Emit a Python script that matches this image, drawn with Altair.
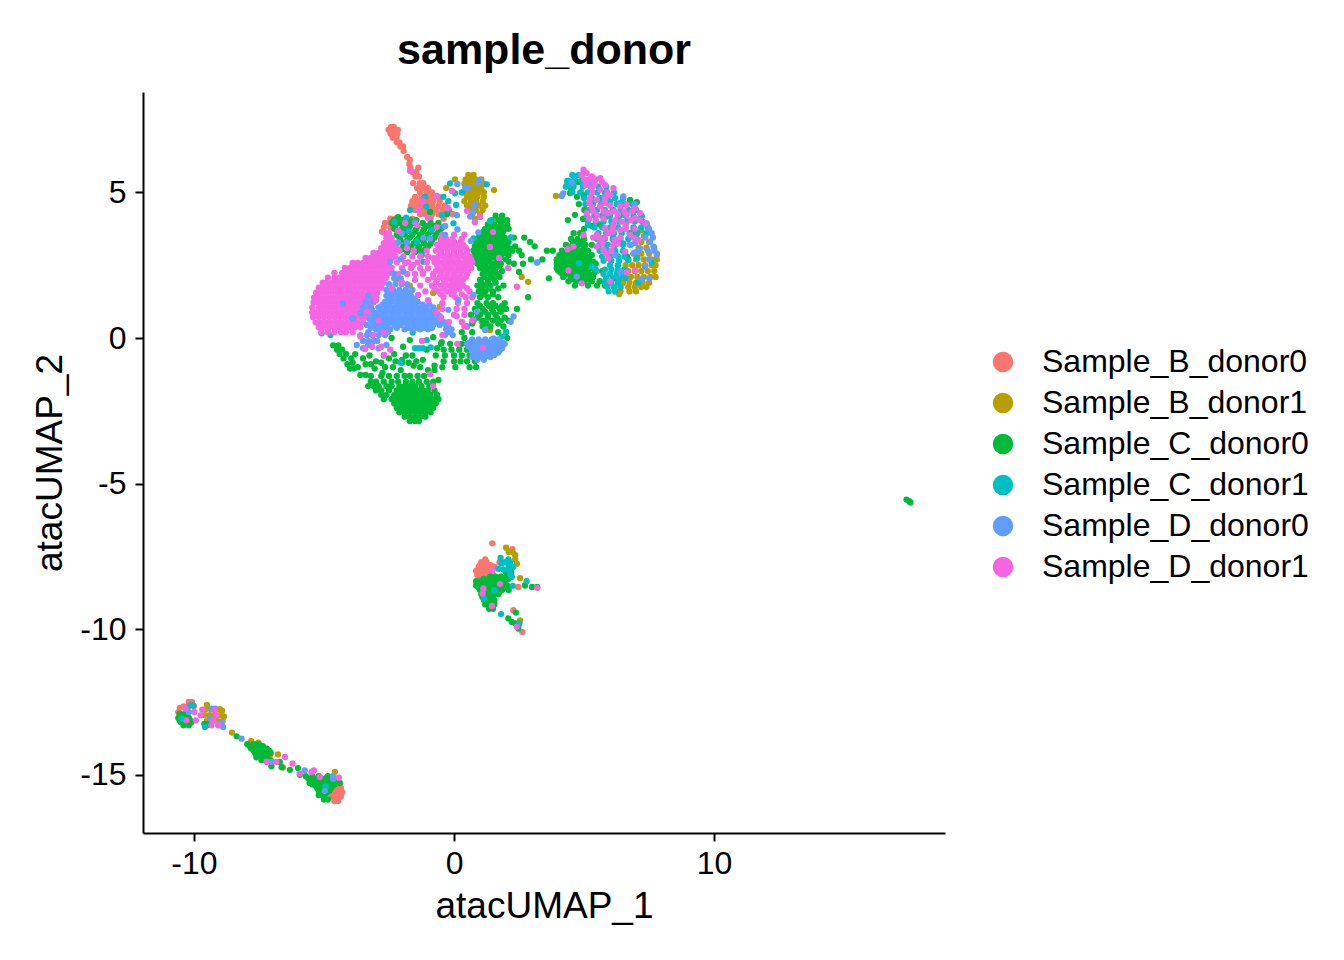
import altair as alt
import pandas as pd

NAMES = ["Sample_B_donor0", "Sample_B_donor1", "Sample_C_donor0", "Sample_C_donor1", "Sample_D_donor0", "Sample_D_donor1"]
COLORS = ["#F8766D", "#B79F00", "#00BA38", "#00BFC4", "#619CFF", "#F564E3"]

# every group: rows of (atacUMAP_2, [atacUMAP_1 ...])
B0 = [
(7.25,[-2.42,-2.32]),(7.15,[-2.52,-2.38,-2.24,-2.16]),(7.02,[-2.44,-2.3,-2.18]),(6.88,[-2.36,-2.22]),
(6.72,[-2.2,-2.1]),(6.58,[-2.06,-1.96]),(6.42,[-1.94]),(6.22,[-1.8]),(6.12,[-1.7]),(5.98,[-1.72]),
(5.85,[-1.68,-1.37]),(5.7,[-1.6,-1.45]),(5.55,[-1.48,-1.35]),(5.32,[-1.57,-1.32,-1.18]),
(5.15,[-1.42,-1.2,-1.0]),(5.0,[-1.3,-1.05,-0.85]),(4.85,[-1.5,-1.25,-1.05,-0.85,-0.6]),
(4.7,[-1.6,-1.4,-1.2,-1,-0.8,-0.55]),(4.55,[-1.65,-1.45,-1.25,-1.05,-0.85,-0.6,-0.35]),
(4.4,[-1.5,-1.3,-1.1,-0.9,-0.7,-0.45,-0.2]),(4.25,[-1.3,-1.1,-0.85,-0.6,-0.3,-0.05]),
(4.1,[-2.45,-2.25,-1.6,-0.9,-0.4]),(3.95,[-2.65,-2.45,-2.2,-1.9]),(3.8,[-2.7,-2.45]),(3.65,[-2.77]),
(5.3,[4.35]),(5.0,[4.9]),(4.4,[5.0]),(2.3,[5.5]),(1.9,[5.9]),
(-7.05,[1.47]),(-7.25,[2.24]),(-7.6,[1.2]),(-7.7,[1.05,1.25,1.75]),(-7.8,[1.0,1.2,1.4]),(-7.85,[0.95,1.15,1.35,1.55]),
(-7.93,[0.95,1.15,1.35]),(-8.0,[0.85,1.05,1.25,1.45]),(-8.08,[0.9,1.2,1.4]),(-8.15,[0.9,1.1,1.3,1.5]),(-8.3,[1.0,1.2]),(-8.55,[2.47]),
(-9.35,[2.28]),(-9.85,[2.5]),(-10.1,[2.63]),
(-15.45,[-4.55,-4.35]),(-15.6,[-4.65,-4.45,-4.3]),(-15.75,[-4.7,-4.5,-4.35]),(-15.9,[-4.6,-4.45]),
(-12.7,[-10.54]),(-12.5,[-10.08,-10.2]),(-12.65,[-10.4,-10.25,-10.0]),(-12.85,[-10.6]),
]
B1 = [
(5.6,[0.55,0.75]),(5.45,[0.04,0.45,0.65,0.85,1.05]),(5.3,[0.4,0.6,0.8,1.0,1.15]),
(5.15,[-0.3,0.45,0.65,0.85,1.05]),(5.08,[1.54]),(5.0,[0.35,0.55,0.75,0.95,1.15]),
(4.85,[0.5,0.7,0.9,1.15]),(4.7,[0.4,0.65,0.85,1.1]),(4.55,[0.5,0.7,0.95,1.2]),
(4.4,[0.6,0.85,1.1]),(4.25,[0.7,1.0]),(4.1,[0.8]),
(2.0,[-2.2]),(1.7,[0.2]),(1.07,[-0.55]),(0.55,[1.07]),(0.27,[1.38]),(2.1,[2.6]),(1.93,[2.85]),
(3.3,[-1.43]),(2.5,[-2.58]),(1.8,[-1.7]),(1.55,[-0.8]),(3.0,[-1.2]),
(3.7,[6.9,7.2]),(3.5,[7.0,7.3]),(3.3,[7.2,7.5]),(3.1,[7.1,7.4,7.7]),(2.9,[6.9,7.2,7.5,7.8]),
(2.7,[6.7,7.0,7.3,7.6,7.8]),(2.5,[6.6,6.85,7.1,7.35,7.6,7.75]),(2.3,[6.7,6.95,7.2,7.45,7.7]),
(2.1,[6.55,6.8,7.05,7.3,7.55,7.75]),(1.9,[6.5,6.75,7.0,7.25,7.5]),(1.75,[6.4,6.7,6.95,7.2,7.4]),
(1.6,[6.2,6.4,6.75,7.0]),(1.5,[6.35]),(4.88,[3.92]),
(-7.2,[2.0]),(-7.35,[2.1,2.25]),(-7.45,[2.35]),(-7.6,[2.35]),(-7.75,[2.42]),(-8.25,[2.54]),(-9.7,[2.54]),
(-12.6,[-9.5]),(-12.8,[-8.92]),(-13.0,[-8.85]),(-13.55,[-8.54]),(-13.9,[-7.53]),(-13.85,[-7.8]),
(-14.3,[-7.07,-6.77]),(-14.75,[-6.58]),(-14.9,[-4.58]),(-15.1,[-4.77]),
(-12.75,[-9.55,-9.35,-9.15,-9.0]),(-12.95,[-9.6,-9.4,-9.2,-9.0]),(-13.15,[-9.5,-9.1,-8.9]),
]
C0 = [
(-2.85,[-1.7,-1.5,-1.35]),(-2.7,[-1.9,-1.7,-1.5,-1.3,-1.1]),(-2.55,[-2.1,-1.9,-1.7,-1.5,-1.3,-1.1,-0.9]),
(-2.4,[-2.2,-2,-1.8,-1.6,-1.4,-1.2,-1,-0.8]),(-2.25,[-2.3,-2.1,-1.9,-1.7,-1.5,-1.3,-1.1,-0.9,-0.7]),
(-2.1,[-2.7,-2.4,-2.2,-2,-1.8,-1.6,-1.4,-1.2,-1,-0.8,-0.6]),
(-1.95,[-2.8,-2.6,-2.3,-2.1,-1.9,-1.7,-1.5,-1.3,-1.1,-0.9,-0.65]),
(-1.8,[-3.0,-2.8,-2.5,-2.2,-2,-1.8,-1.6,-1.4,-1.2,-1,-0.75]),
(-1.65,[-3.3,-3.1,-2.9,-2.6,-2.4,-2.1,-1.9,-1.7,-1.5,-1.25,-0.95]),
(-1.5,[-3.2,-3,-2.7,-2.4,-2.15,-1.85,-1.6,-1.35,-1.05,-0.8]),(-1.3,[-2.8,-2.5,-2.2,-1.9,-1.7,-1.4,-1.15]),
(-1.44,[-0.6]),(-0.25,[-4.65,-4.45]),(-0.4,[-4.5,-4.3]),(-0.55,[-4.4,-2.3,-4.15,-3.8]),(-0.7,[-4.25,-3.5,-2.5,-3.95]),
(-0.9,[-4.1,-3.4,-3.2]),(-0.85,[-3.9,-2.8,-2.0]),(-1.05,[-4.0,-3.05,-3.85]),(-1.0,[-3.7,-2.65,-1.3,-2.35]),(-1.27,[-3.6,-3.4]),
(-0.6,[-3.25,-1.85,-1.6,-2.7]),(-1.3,[-3.2]),(-0.8,[-3.0,-2.25,-1.45]),(-1.2,[-2.75]),(-0.75,[-2.0,-1.2]),
(-0.85,[-1.75]),(-0.95,[-1.55,-0.75]),(-1.1,[-2.05,-1.0,-0.75]),
(4.15,[-2.15]),(4.33,[-0.92]),(4.26,[-0.27]),
(3.95,[-2.4,-2.1,-1.85,-1.6,-1.2,-0.9,-0.6]),(3.75,[-2.3,-2.0,-1.75,-1.45,-1.15,-0.85,-0.5]),
(3.55,[-2.2,-1.9,-1.6,-1.3,-1.0,-0.7]),(3.35,[-2.05,-1.8,-1.45,-1.2,-0.85]),(3.15,[-1.95,-1.65,-1.35,-1.0]),
(2.95,[-1.8,-1.5,-1.25]),(4.2,[1.6,1.85]),(4.05,[1.45,1.7,1.9,2.05]),(3.9,[1.3,1.55,1.8,2.05]),
(3.75,[1.2,1.45,1.7,1.95,2.1]),(3.6,[1.05,1.3,1.55,1.8]),(3.45,[0.95,1.2,1.45,1.7,1.95,2.3,2.7]),
(3.3,[0.85,1.1,1.35,1.6,1.85,2.1,2.92]),(3.15,[0.8,1.05,1.3,1.55,1.8,2.05,2.35,3.1]),
(3.0,[0.75,1.0,1.25,1.5,1.75,2.0,2.25,2.5,3.57,3.8]),(2.85,[0.8,1.05,1.3,1.55,1.8,2.1,2.6]),
(2.7,[0.85,1.1,1.35,1.65,2.0,2.96,3.4]),(2.55,[0.9,1.2,1.5,1.8,2.3,2.65]),(2.4,[1.0,1.3,1.6]),
(2.27,[2.5]),(2.2,[1.1,1.35,1.65]),(2.05,[3.65]),(2.0,[1.0,1.3,1.55]),(1.8,[0.9,1.15,1.4,1.9]),
(1.6,[0.95,1.2,1.5]),(1.4,[1.0,1.3,1.7,2.85]),(1.2,[0.9,1.25,1.5,1.95]),(1.0,[0.8,1.1,1.45,1.75,2.0,2.42]),
(0.8,[0.65,1.0,1.3,1.6]),(0.6,[0.75,1.1,1.5,1.8,2.1]),(0.4,[0.5,1.1,1.4,1.9]),(0.2,[0.3,0.7,1.7,2.0]),
(0,[0.4,2.05]),(-0.2,[-0.5,-0.15,0.3]),(-0.4,[-0.4,-0.1,0.2,0.5]),(-0.6,[-0.7,-0.35,0,0.3,0.6]),
(-0.8,[-0.4,0,0.25,0.5,0.8]),(-1.0,[-0.45,0.05,0.6,0.85]),
(-0.07,[-1.7]),(0.03,[-0.8]),(-0.14,[-0.47]),(-0.3,[-1.96]),(0,[-2.4]),(-0.4,[-1.05]),(-0.35,[-0.65]),
(3.6,[4.6,4.85]),(3.4,[4.5,4.75,5.0]),(3.2,[4.3,4.55,4.8,5.05,5.3]),(3.0,[4.15,4.4,4.65,4.9,5.15]),
(2.85,[4.05,4.3,4.55,4.8,5.05,5.3]),(2.7,[3.95,4.2,4.45,4.7,4.95,5.2]),
(2.55,[3.95,4.2,4.45,4.7,4.95,5.2,5.45]),(2.4,[3.95,4.2,4.45,4.7,5.0,5.3]),
(2.25,[4.1,4.35,4.6,4.85,5.15,5.4]),(2.1,[4.2,4.5,4.8,5.05,5.35]),(1.95,[4.4,4.7,5.0,5.3,5.6]),
(1.8,[4.65,5.15,5.5,5.8]),(4.05,[4.38]),(4.23,[4.65]),(4.09,[4.96]),(4.85,[4.73]),(4.9,[5.0]),
(4.98,[4.46]),(5.36,[4.77]),(5.15,[4.5]),(4.6,[4.8]),(4.4,[5.04]),(3.75,[5.0]),(3.85,[5.3]),(3.9,[5.6]),
(4.74,[6.77]),(4.67,[7.03]),(3.53,[6.96]),(2.8,[6.65]),(2.75,[7.04]),(2.3,[5.7]),(2.05,[6.2]),
(-8.03,[2.0,2.2]),(-8.2,[1.4,1.6,1.8,2.0,2.2]),(-8.35,[0.85,1.05,1.25,1.45,1.65,1.85]),
(-8.5,[0.85,1.05,1.2,1.4,1.6,1.8,2.05,2.73]),(-8.65,[1.0,1.2,1.4,1.6,1.85,2.1]),(-8.8,[1.05,1.25,1.45,1.7]),
(-9.0,[1.15,1.35,1.55]),(-9.15,[1.2,1.4,1.55]),(-9.3,[1.35,1.5]),(-8.55,[3.0,3.2]),
(-9.63,[2.09]),(-9.75,[2.22]),(-9.8,[2.35]),(-9.43,[2.38]),(-9.98,[2.47]),
(-12.9,[-10.55,-10.35]),(-13.05,[-10.6,-10.4,-10.2]),(-13.2,[-10.5,-10.3,-10.1]),(-13.25,[-9.6,-9.4]),
(-13.95,[-7.95,-7.7,-7.5]),(-14.1,[-7.8,-7.6,-7.4,-7.2]),(-14.25,[-7.65,-7.45,-7.25,-7.05]),
(-14.4,[-7.6,-7.4,-7.2]),(-14.56,[-6.7]),(-14.74,[-6.63]),(-14.71,[-7.02]),(-14.83,[-6.31]),(-14.77,[-6]),
(-13.68,[-8.36]),(-15.0,[-5.93]),(-15.13,[-5.6,-5.35,-5.1,-4.95]),(-15.28,[-5.55,-5.35,-5.15,-4.9,-4.39]),
(-15.4,[-5.3,-5.1,-4.9,-4.7]),(-15.55,[-5.2,-5.0,-4.8]),(-15.7,[-5.2,-5.0]),(-15.85,[-5.0,-4.85]),
(-5.55,[17.4]),(-5.6,[17.5]),(-5.65,[17.55]),
]
C0_FILL = [
(4.05,[-2.3,-2.0,-1.7,-1.45]),(3.85,[-2.25,-1.95,-1.7,-1.4,-1.05,-0.75]),(3.65,[-2.15,-1.85,-1.5,-1.2,-0.9,-0.6]),
(3.45,[-2.1,-1.7,-1.35,-1.05,-0.75]),(3.25,[-1.85,-1.55,-1.15,-0.9]),(3.05,[-2.0,-1.7,-1.4,-1.1]),
(3.82,[1.35,1.6,1.85]),(3.67,[1.15,1.4,1.65,1.9]),(3.52,[1.1,1.35,1.6,1.85]),(3.37,[0.95,1.2,1.5,1.75,2.0]),
(3.22,[0.95,1.2,1.45,1.7,1.95]),(3.07,[0.9,1.15,1.4,1.65,1.9,2.15]),(2.92,[0.9,1.15,1.4,1.65,1.95]),
(2.77,[0.95,1.2,1.5,1.8]),(2.62,[1.05,1.35,1.65,2.1]),(2.47,[1.15,1.45,1.75]),(2.3,[1.2,1.5,1.85]),
(2.1,[1.15,1.45,1.75]),(1.9,[1.05,1.3,1.6]),(1.7,[1.05,1.35,1.7]),(1.5,[1.15,1.5]),(1.1,[1.0,1.35,1.6,1.85]),
(0.9,[0.85,1.2,1.5,1.8]),(0.7,[0.9,1.3,1.65,1.95]),(0.5,[0.7,1.25,1.7]),
(3.3,[4.6,4.9]),(3.1,[4.4,4.7,5.0]),(2.92,[4.2,4.45,4.7,5.0]),(2.78,[4.1,4.4,4.65,4.9,5.15]),
(2.62,[4.05,4.3,4.6,4.85,5.1,5.35]),(2.47,[4.05,4.3,4.6,4.85,5.15]),(2.32,[4.0,4.25,4.5,4.75,5.05]),
(2.17,[4.3,4.65,4.95,5.25]),(2.02,[4.55,4.85,5.15]),
(-8.27,[1.15,1.35,1.55,1.75,1.95,2.1]),(-8.42,[0.95,1.15,1.3,1.5,1.7,1.95]),(-8.57,[0.95,1.1,1.3,1.5,1.7,1.95]),
(-8.72,[1.1,1.3,1.5,1.75]),(-8.9,[1.1,1.3,1.5]),(-9.07,[1.25,1.45]),
(-14.02,[-7.85,-7.6,-7.35]),(-14.18,[-7.7,-7.5,-7.3,-7.1]),(-14.33,[-7.55,-7.3]),(-14.5,[-7.4,-7.05]),
(-15.05,[-5.7,-5.45,-5.2,-4.85]),(-15.2,[-5.5,-5.25,-5.0,-4.75,-4.55]),(-15.33,[-5.45,-5.2,-5.0,-4.8,-4.6]),
(-15.47,[-5.25,-5.0,-4.75]),(-15.63,[-5.1,-4.9]),
(-12.98,[-10.5,-10.3]),(-13.13,[-10.55,-10.35,-10.15]),(-13.3,[-10.4,-10.2,-9.5]),
]
C1 = [
(5.6,[4.55,4.8]),(5.4,[4.35,4.6,4.9,5.2]),(5.2,[4.3,4.6,4.95,5.25,5.55,5.85]),(5.0,[4.55,4.85,5.15,5.5,5.8,6.15]),
(4.8,[5.0,5.3,5.6,5.9,6.2,6.5]),(4.6,[5.05,5.35,5.65,5.95,6.25,6.55,6.85]),(4.4,[5.2,5.5,5.8,6.1,6.4,6.7,7.0]),
(4.2,[5.1,5.4,5.7,6.0,6.3,6.6,6.9,7.2]),(4.0,[5.15,5.45,5.75,6.05,6.35,6.65,6.95,7.25]),
(3.8,[5.4,5.7,6.0,6.3,6.6,6.9,7.2,7.45]),(3.6,[5.55,5.85,6.15,6.45,6.75,7.05,7.4]),
(3.4,[5.5,5.8,6.1,6.4,6.7,7.0]),(3.2,[5.6,5.9,6.2,6.5,6.8]),(3.0,[5.6,5.9,6.2,6.5]),(2.8,[5.7,6.0,6.3,6.55]),
(2.65,[5.75,6.05,6.35]),
(2.5,[6.0,6.3]),(2.35,[5.8,6.05,6.3,6.55]),(2.2,[5.75,6.0,6.25,6.5]),(2.05,[5.85,6.1,6.35,6.6]),
(1.9,[5.8,6.05,6.3]),(1.75,[5.9,6.15,6.4]),(1.6,[5.95,6.2]),
(5.26,[4.46]),(5.54,[4.65]),(5.4,[4.4]),(5.02,[5.88]),(4.8,[5.7]),(4.68,[6]),(4.4,[6.13,6.9]),(4.63,[6.38]),
(4.17,[5.88,7.22]),(4.2,[6.38]),(3.47,[6.13]),(3.43,[5.73]),(3.25,[6.5]),(3.05,[5.82]),(2.9,[6.2]),
(2.68,[6.7]),(2.75,[7.05]),(2.6,[7.6]),(1.9,[7.08]),(3.87,[5.15]),(2.45,[5.3]),(2.35,[5.45]),(2.57,[4.8]),
(-0.35,[-1.5,-1.35,-1.2]),(0.19,[-1.59]),(-0.07,[-1.05]),(-0.32,[-0.9]),(0.16,[-5.09]),(0.1,[-4.75]),
(-0.84,[-2.07]),(0.22,[2.0]),(0.05,[1.84]),
(5.31,[-0.15]),(5.28,[1.26]),(5,[0.3]),(4.97,[0.04]),(4.85,[-0.41,-1.11]),(4.7,[-0.22]),(4.57,[0.08]),
(4.51,[-1.07]),(4.4,[-1.69,-0.21]),(4.22,[-0.47]),(3.71,[-0.86]),(3.94,[-0.02]),(3.99,[-2.29]),(4.13,[-1.84]),
(3.67,[-1.75]),(3.31,[-1.43]),(3.82,[-0.41]),(2.85,[-1.24]),(2.62,[-1.18]),(4.02,[1.39]),(3.46,[2.18]),(3.42,[0.75]),
(-7.55,[1.79]),(-7.6,[2.09]),(-7.7,[1.95,2.15]),(-7.74,[1.83]),(-7.8,[2.1]),(-7.92,[1.7]),(-7.95,[1.9,2.1]),(-7.86,[2.28]),(-8.09,[2.15]),(-8.2,[2.22]),
(-8.51,[2.26]),(-8.35,[2.79]),(-8.66,[1.55]),(-8.95,[1.15]),(-9.48,[1.81]),(-9.8,[2.51]),
(-12.62,[-10.03,-10.15]),(-13.36,[-9.58]),(-15.4,[-4.93]),(-13.07,[-10.48]),
]
D1_BASE = [
(0.2,[-5.1,-4.85,-4.6,-4.35,-4.15,-3.9]),(0.37,[-5.2,-5,-4.8,-4.6,-4.4,-4.2,-4,-3.8,-3.6]),
(0.54,[-5.32,-5.12,-4.92,-4.72,-4.52,-4.32,-4.12,-3.92,-3.72,-3.5]),
(0.71,[-5.42,-5.2,-5,-4.8,-4.6,-4.4,-4.2,-4,-3.8,-3.6,-3.4]),
(0.88,[-5.45,-5.3,-5.1,-4.9,-4.7,-4.5,-4.3,-4.1,-3.9,-3.7,-3.5,-3.3]),
(1.05,[-5.45,-5.2,-5,-4.8,-4.6,-4.4,-4.2,-4,-3.8,-3.6,-3.4,-3.2]),
(1.22,[-5.4,-5.3,-5.1,-4.9,-4.7,-4.5,-4.3,-4.1,-3.9,-3.7,-3.5,-3.3,-3.1]),
(1.39,[-5.38,-5.2,-5,-4.8,-4.6,-4.4,-4.2,-4,-3.8,-3.6,-3.4,-3.2,-3.0]),
(1.56,[-5.3,-5.1,-4.9,-4.7,-4.5,-4.3,-4.1,-3.9,-3.7,-3.5,-3.3,-3.1,-2.95]),
(1.73,[-5.2,-5,-4.8,-4.6,-4.4,-4.2,-4,-3.8,-3.6,-3.4,-3.2,-3.0,-2.8]),
(1.9,[-5.05,-4.9,-4.7,-4.5,-4.3,-4.1,-3.9,-3.7,-3.5,-3.3,-3.1,-2.9,-2.7]),
(2.07,[-4.85,-4.6,-4.4,-4.2,-4,-3.8,-3.6,-3.4,-3.2,-3,-2.8,-2.6]),
(2.24,[-4.6,-4.3,-4.1,-3.9,-3.7,-3.5,-3.3,-3.1,-2.9,-2.7,-2.5]),
(2.41,[-4.2,-4,-3.8,-3.6,-3.4,-3.2,-3,-2.8,-2.6,-2.4]),(2.58,[-3.9,-3.7,-3.5,-3.3,-3.1,-2.9,-2.7,-2.5]),
(2.75,[-3.4,-3.2,-3,-2.8,-2.6,-2.4]),(2.92,[-3.1,-2.9,-2.7,-2.5,-2.3]),(3.09,[-2.8,-2.6,-2.4,-2.2]),
(3.26,[-2.7,-2.5,-2.3]),(3.43,[-2.6,-2.4]),(3.6,[-2.65,-2.5]),
(3.4,[-0.5,-0.3,-0.05,0.3]),(3.2,[-0.65,-0.4,-0.15,0.1,0.35]),(3.0,[-0.7,-0.5,-0.25,0,0.25,0.5]),
(2.8,[-0.6,-0.4,-0.15,0.1,0.35,0.6]),(2.6,[-0.75,-0.5,-0.25,0,0.25,0.5,0.7]),
(2.4,[-1.0,-0.6,-0.35,-0.1,0.15,0.4,0.65]),(2.2,[-1.2,-0.8,-0.5,-0.25,0,0.25,0.5]),
(2.0,[-1.5,-1,-0.65,-0.4,-0.15,0.1,0.35]),(1.8,[-1.3,-0.85,-0.5,-0.2,0.05,0.35]),
(1.6,[-1.1,-0.6,-0.3,0,0.6]),(1.4,[-0.4,0.05,0.45,0.7]),(1.2,[-0.45,0.15,0.5]),(1.0,[0.1,0.4]),(0.8,[0.0,0.4]),
(3.0,[-2.1,-1.55,-1.05]),(2.8,[-2.25,-1.95,-1.6,-1.3,-1.0]),(2.6,[-2.2,-1.75,-1.4,-1.05]),(2.4,[-2.0,-1.65,-1.3]),
(2.2,[-2.15,-1.8,-1.5]),
(3.55,[-0.45,0.0,0.4]),(3.3,[-0.5,-0.25,0,0.25]),(3.1,[-0.55,-0.3,-0.05,0.2,0.45]),(2.9,[-0.5,-0.25,0,0.25,0.5]),
(2.7,[-0.65,-0.35,-0.1,0.15,0.45,0.65]),(2.5,[-0.65,-0.4,-0.15,0.1,0.35,0.6]),(2.3,[-0.7,-0.45,-0.2,0.05,0.3,0.55]),
(2.1,[-0.8,-0.55,-0.3,-0.05,0.2,0.45]),(1.9,[-0.7,-0.35,-0.05,0.2]),(1.7,[-0.75,-0.4,-0.1,0.2,0.5]),(1.5,[-0.5,-0.1,0.3]),
]
D0 = [
(2.05,[-2.3,-2.05]),(1.85,[-2.5,-2.25,-2.0,-1.8]),(1.65,[-2.6,-2.35,-2.1,-1.85,-1.6]),
(1.45,[-3.3,-2.6,-2.4,-2.15,-1.9,-1.65]),(1.25,[-3.4,-3.1,-2.65,-2.4,-2.15,-1.9,-1.65,-1.4]),
(1.05,[-3.5,-3.25,-2.9,-2.6,-2.35,-2.1,-1.85,-1.6,-1.35,-1.1,-0.8]),
(0.85,[-3.6,-3.3,-3.0,-2.7,-2.4,-2.15,-1.9,-1.65,-1.4,-1.15,-0.9,-0.65]),
(0.65,[-3.25,-3.0,-2.75,-2.5,-2.25,-2.0,-1.75,-1.5,-1.25,-1.0,-0.75,-0.5]),
(0.45,[-3.35,-3.05,-2.8,-2.55,-2.3,-2.05,-1.8,-1.55,-1.3,-1.05,-0.8,-0.55,-0.3]),
(0.3,[-3.0,-2.7,-2.45,-1.9,-1.6,-1.3,-1.0,-0.3,-0.1]),(0.1,[-3.6,-3.35,-3.15,-2.9,-2.65,-0.35,-0.05]),
(-0.1,[-3.5,-3.3,-3.1,-2.95]),(-0.24,[-3.74,-3.3,-2.6]),(-0.35,[-3.5,-2.9]),(1.19,[-4.28]),(0.68,[-3.9]),
(0.39,[0.49]),(0.62,[0.75]),(0.9,[0.87]),(0.74,[2.29]),(0.56,[2.18]),(1.48,[0.75]),(1.31,[0.17]),(0.97,[-0.22]),
(0.28,[1.2]),(-0.01,[1.52]),(-0.05,[0.7,0.95,1.2,1.45,1.7]),(-0.2,[0.5,0.75,1.0,1.25,1.5,1.75,1.95]),
(-0.35,[0.65,0.9,1.15,1.4,1.65,1.85]),(-0.5,[0.7,0.95,1.2,1.45,1.7]),(-0.65,[0.7,0.95,1.2,1.4]),(-0.75,[0.9,1.15]),
(5.31,[0.94]),(5.43,[0.98]),(5.29,[0.13]),(5.17,[0.43]),(5.16,[0.55]),(4.57,[0.81]),(4.34,[0.75]),(4.17,[0.62]),
(4.22,[0.11]),(3.73,[0.13]),(3.85,[-0.34]),(3.44,[-1.18]),(3.42,[-0.92]),(3.54,[-0.34]),(3.97,[-1.5]),(3.59,[-2.01]),
(3.28,[-2.14,-1.82]),(2.62,[-2.46]),(2.71,[-2.05]),(2.22,[-2.33]),(2.28,[-1.95]),(3.63,[0.94]),(3.33,[0.64]),(2.6,[3.21]),
(4.97,[4.2]),(4.88,[4.14]),(5.34,[4.53]),(5.26,[5.04]),(5.32,[5.17]),(5.38,[5.35]),(4.86,[6.51]),(4.6,[6.96]),(4.57,[6.39]),
(4.29,[5.87]),(3.6,[7.6]),(3.31,[7.54]),(3.14,[7.67]),(2.85,[7.8]),(3.26,[6.96]),(3.08,[7.15]),(2.91,[6.9]),(2.45,[7.35]),
(2.28,[6.39]),(2.85,[6.19]),(2.11,[4.72]),(2.02,[7.22]),(2.05,[7.51]),(2.59,[3.18]),(3.94,[7.41]),
(3.75,[7.5]),(3.45,[7.35,7.65]),(3.0,[7.45,7.7]),(2.7,[7.5]),(3.2,[6.75]),(2.95,[7.0]),
(1.55,[-2.5,-2.2,-1.95,-1.7]),(1.35,[-2.5,-2.25,-2.0,-1.75,-1.5]),(1.15,[-2.75,-2.5,-2.2,-2.0,-1.75,-1.5,-1.2,-0.95]),
(0.95,[-3.15,-2.8,-2.55,-2.25,-2.0,-1.75,-1.5,-1.25,-1.0,-0.75]),
(0.75,[-3.1,-2.85,-2.6,-2.35,-2.1,-1.85,-1.6,-1.35,-1.1,-0.85,-0.55]),
(0.55,[-3.15,-2.9,-2.65,-2.4,-2.15,-1.9,-1.65,-1.4,-1.15,-0.9,-0.65,-0.4]),
(0.35,[-3.2,-2.9,-2.6,-2.2,-1.75,-1.45,-1.15,-0.85,-0.2]),(0.2,[-3.3,-2.8,-2.55,-0.2]),
(-0.15,[0.6,0.9,1.1,1.35,1.6,1.85]),(-0.28,[0.55,0.8,1.05,1.3,1.55,1.8]),(-0.43,[0.8,1.05,1.3,1.55,1.75]),(-0.58,[0.85,1.1,1.3,1.55]),
(-12.84,[-10.2]),(-13.07,[-9.39]),(-13.36,[-8.88]),(-13.19,[-8.94]),(-12.73,[-9.33,-9.2]),(-13.76,[-8.17]),
(-14.56,[-7.02]),(-14.85,[-5.74]),(-15.14,[-4.65]),(-15.56,[-4.97]),(-15.05,[-4.65]),
]
D1_TOP = [
(-1.24,[-0.92]),(-1.65,[-0.8]),(1.76,[2.42]),(-0.1,[-1.23]),(-0.2,[0.13]),(-0.33,[1.12]),
(0.9,[-3.3]),(1.3,[-3.0]),(0.6,[-2.9]),(0.2,[-2.7]),(0.1,[-3.1]),(-0.38,[-3.42]),(-0.3,[-3.15,-2.8]),(-0.58,[-2.69]),
(-0.4,[-2.45]),(0.05,[-3.6]),(1.7,[-2.4]),(1.9,[-2.0]),(1.48,[-1.38]),(1.3,[-1.0]),(0.9,[-0.7]),(0.7,[-0.5]),
(0.55,[-0.2]),(0.4,[0.4]),(0.6,[0.7]),(0.1,[-0.45]),(1.0,[-0.45]),(0.75,[0.1]),(0.55,[0.3]),
(5.74,[-1.69]),(4.7,[-1.19]),(4.4,[-1.38]),(4.88,[-0.66]),(4.47,[-0.23]),(5.05,[-0.08]),(4.37,[0.5]),(4.16,[1]),
(3.98,[0.8]),(3.64,[1.5]),(3.13,[1.38]),(2.75,[1.73]),(2.4,[2.08]),(3.95,[-1.88]),(4.12,[-1]),(3.68,[-2.15]),
(3.88,[-1.43]),(3.81,[-0.66]),(3.09,[-1.81]),(2.5,[-1.58]),(2.58,[-1.88]),(2.74,[-0.8]),(2.26,[-1.2]),
(5.78,[4.98]),(5.66,[5.10]),(5.6,[4.91]),(5.55,[5.3]),(5.49,[5.62]),(5.26,[5.81,5.1]),(5.15,[6.13,5.3]),(5.09,[5.62]),
(4.75,[5.49]),(4.8,[5.23,5.81]),(4.52,[5.62,6.39]),(4.29,[5.1,5.94,7.15]),(4.23,[5.49,6.64]),(4.57,[6.64]),(4.46,[6.96]),
(4.12,[6.96]),(3.94,[7.35]),(4.0,[6.45]),(3.89,[6.13]),(3.77,[5.81]),(3.6,[5.94]),(3.71,[6.39]),(3.54,[4.98,5.49,6.77]),
(3.37,[6.19,7.09]),(3.14,[5.49,4.59]),(3.03,[5.75]),(2.74,[5.94]),(2.97,[6.58]),(3.05,[4.37]),(2.32,[4.4]),(1.88,[4.91]),
(1.94,[6.0]),(2.34,[6.96]),(2.25,[6.64]),(5.3,[5.4]),(5.35,[5.7]),(5.0,[5.9]),(4.55,[6.0]),(4.5,[5.3]),(4.25,[6.3]),
(4.1,[5.75,5.2]),(3.65,[6.1]),(3.9,[6.6]),(3.4,[5.6]),(2.9,[5.85]),(3.2,[6.1]),
(5.45,[5.0,5.2,5.45]),(5.0,[5.3]),(4.9,[6.0]),(4.65,[5.2,5.8]),(4.35,[5.35,5.75,6.15,6.55,6.85]),(4.05,[5.45,6.2,6.8,7.15]),
(3.75,[6.1,6.6,6.95]),(3.45,[5.35,5.8,6.4,6.9]),(3.25,[5.7,6.3]),(3.0,[6.05]),
(-7.97,[1.47]),(-8.45,[1.77]),(-8.6,[1.13]),(-8.77,[1.1]),(-9.2,[1.46]),(-8.58,[3.2]),(-9.92,[2.41]),
(-12.73,[-10.33]),(-12.84,[-9.99]),(-13.13,[-10.29,-9.93]),(-12.96,[-9.74,-9.13]),(-12.76,[-9.68]),(-12.79,[-9.2]),
(-13.15,[-9.26]),(-13.3,[-9.07,-9.33]),(-14.56,[-7.21,-6.83]),(-14.39,[-6.5]),(-14.62,[-6.21]),(-14.96,[-5.93]),
(-14.91,[-5.48]),(-14.85,[-5.39]),(-15.08,[-5.16]),(-15.1,[-4.43]),
]

DRAW = [(B0, 0), (B1, 1), (C0, 2), (C0_FILL, 2), (C1, 3), (D1_BASE, 5), (D0, 4), (D1_TOP, 5)]
records = []
for rows, idx in DRAW:
    for yv, xs in rows:
        for xv in xs:
            records.append({"x": xv, "y": yv, "s": NAMES[idx]})
df = pd.DataFrame(records)

FONT = "Liberation Sans"
chart = alt.Chart(df).mark_circle(size=40, opacity=1).encode(
    x=alt.X("x:Q", scale=alt.Scale(domain=[-11.96, 18.88], nice=False, zero=False),
            axis=alt.Axis(title="atacUMAP_1", values=[-10, 0, 10], grid=False, labelExpr="'' + datum.value",
                          domainColor="black", domainWidth=2, tickColor="black", tickWidth=2, tickSize=8,
                          labelColor="black", labelFontSize=32, labelFont=FONT, titleFont=FONT, titleFontSize=37,
                          titleFontWeight="normal", titleColor="black", labelPadding=7, titlePadding=9)),
    y=alt.Y("y:Q", scale=alt.Scale(domain=[-17.0, 8.45], nice=False, zero=False),
            axis=alt.Axis(title="atacUMAP_2", values=[-15, -10, -5, 0, 5], grid=False, labelExpr="'' + datum.value",
                          domainColor="black", domainWidth=2, tickColor="black", tickWidth=2, tickSize=8,
                          labelColor="black", labelFontSize=32, labelFont=FONT, titleFont=FONT, titleFontSize=37,
                          titleFontWeight="normal", titleColor="black", labelPadding=9, titlePadding=10)),
    color=alt.Color("s:N", scale=alt.Scale(domain=NAMES, range=COLORS),
                    legend=alt.Legend(title=None, orient="none", legendX=844, legendY=254, symbolType="circle",
                                      symbolSize=420, symbolStrokeWidth=0, labelFont=FONT, labelFontSize=32,
                                      labelColor="black", rowPadding=9, labelOffset=23, labelLimit=400)),
).properties(
    width=802, height=741,
    title=alt.TitleParams("sample_donor", font=FONT, fontSize=43, fontWeight="bold", color="black", anchor="middle", offset=19),
    autosize="none",
    padding={"left": 135, "top": 84, "right": 383, "bottom": 111},
).configure_view(stroke=None)

chart.save("out.html", embed_options={"renderer": "svg", "actions": False})
